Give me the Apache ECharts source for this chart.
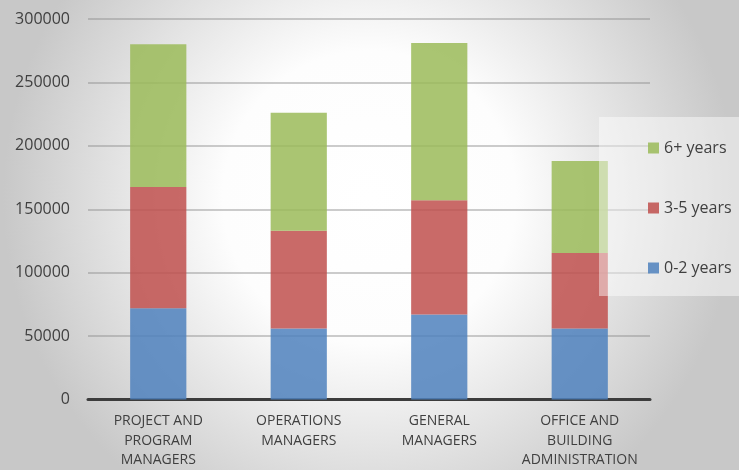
<!DOCTYPE html>
<html>
<head>
<meta charset="utf-8">
<script src="https://cdn.jsdelivr.net/npm/echarts@6/dist/echarts.min.js"></script>
<style>
  html, body { margin: 0; padding: 0; }
  #chart { width: 739px; height: 470px; }
</style>
</head>
<body>
<div id="chart"></div>
<script>
const categories = [
  'PROJECT AND\nPROGRAM\nMANAGERS',
  'OPERATIONS\nMANAGERS',
  'GENERAL\nMANAGERS',
  'OFFICE AND\nBUILDING\nADMINISTRATION',
]
const years0to2 = [72000, 56000, 67000, 56000]
const years3to5 = [95500, 77000, 90000, 59500]
const years6plus = [112500, 93000, 124000, 72500]
const yTicks = { min: 0, max: 300000, interval: 50000 }

const textColor = '#404040'
const font = '"Open Sans", "Noto Sans", sans-serif'

const chart = echarts.init(document.getElementById('chart'), undefined, { renderer: 'canvas' })

function bar(name, data, color) {
  return {
    name,
    type: 'bar',
    stack: 'total',
    data,
    barWidth: '40%',
    itemStyle: { color },
  }
}

chart.setOption({
  animation: false,
  backgroundColor: {
    type: 'radial', x: 0.5, y: 0.42, r: 0.78,
    colorStops: [
      { offset: 0, color: '#ffffff' },
      { offset: 0.4, color: '#fdfdfd' },
      { offset: 1, color: '#c8c8c8' },
    ],
  },
  grid: { left: 88, right: 89, top: 19, bottom: 70 },
  legend: {
    orient: 'vertical',
    left: 643,
    top: 133,
    itemWidth: 11,
    itemHeight: 11,
    itemGap: 40,
    icon: 'rect',
    z: 20,
    data: ['6+ years', '3-5 years', '0-2 years'],
    textStyle: { color: textColor, fontSize: 16, fontFamily: font, lineHeight: 20 },
  },
  graphic: [{
    type: 'rect',
    z: 15,
    shape: { x: 599, y: 117, width: 140, height: 179 },
    style: { fill: 'rgba(255,255,255,0.45)' },
  }],
  xAxis: {
    type: 'category',
    data: categories,
    axisTick: { show: false },
    axisLine: { lineStyle: { color: '#3c3c3c', width: 3 } },
    axisLabel: {
      color: textColor, fontSize: 14, fontFamily: font,
      lineHeight: 19.5, margin: 12, interval: 0,
    },
  },
  yAxis: {
    type: 'value',
    min: yTicks.min,
    max: yTicks.max,
    interval: yTicks.interval,
    axisLine: { show: false },
    axisTick: { show: false },
    splitLine: { lineStyle: { color: 'rgba(140,140,140,0.6)', width: 1.5 } },
    axisLabel: { color: textColor, fontSize: 16, fontFamily: font, margin: 18, formatter: (v) => String(v) },
  },
  series: [
    bar('0-2 years', years0to2, 'rgba(79,129,189,0.85)'),
    bar('3-5 years', years3to5, 'rgba(192,80,77,0.85)'),
    bar('6+ years', years6plus, 'rgba(155,187,89,0.85)'),
  ],
})
</script>
</body>
</html>
